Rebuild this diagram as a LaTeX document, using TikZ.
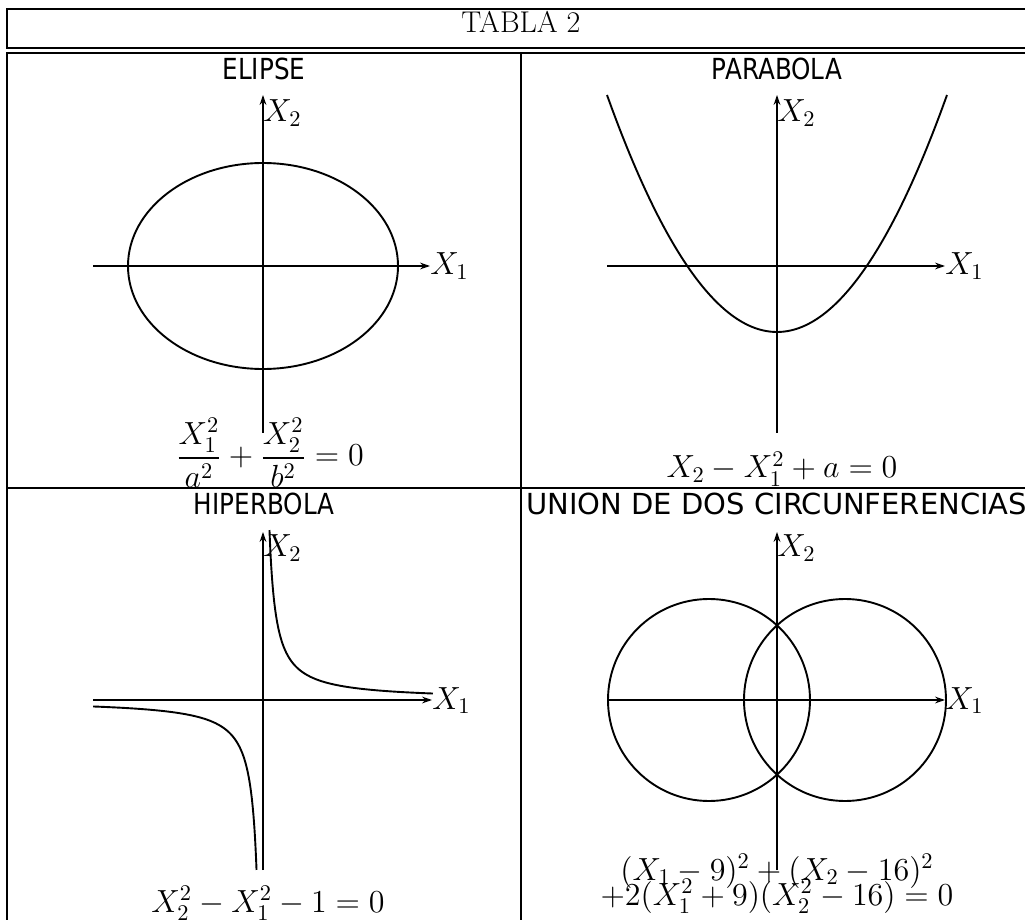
\RequirePackage{fix-cm}
\documentclass[tikz,border=0pt]{standalone}
\usepackage{amsmath}
\usepackage{fontspec}
\newfontfamily\headfont[FakeStretch=0.85]{DejaVu Sans}
\newfontfamily\wideheadfont{DejaVu Sans}
\usetikzlibrary{arrows.meta}

\tikzset{
  frame/.style={line width=1.1pt},
  axis/.style={line width=0.8pt, -{Stealth[length=5pt,width=3.4pt]}},
  curve/.style={line width=0.95pt},
  head/.style={font=\headfont\fontsize{14.5}{17}\selectfont, anchor=base, inner sep=0pt},
  widehead/.style={font=\wideheadfont\fontsize{14.5}{17}\selectfont, anchor=base west, inner sep=0pt},
  eqn/.style={font=\fontsize{16}{19}\selectfont, anchor=base, inner sep=0pt},
  lbl/.style={font=\fontsize{16}{19}\selectfont, anchor=base west, inner sep=0pt}
}

\begin{document}
\begin{tikzpicture}[x=0.5pt, y=-0.5pt]
\useasboundingbox (0,0) rectangle (1025,920);
\clip (0,0) rectangle (1025,920);

% title and table frame
\draw[frame] (7,9) rectangle (1045,48);
\node[font=\fontsize{15}{18}\selectfont, anchor=base, inner sep=0pt] (title) at (521,33) {TABLA 2};
\draw[frame] (7,945) -- (7,53) -- (1045,53);
\draw[frame] (521,53) -- (521,945);
\draw[frame] (7,488) -- (1045,488);

% ellipse
\begin{scope}[shift={(263,266)}]
\node[head] (h1) at (1,-186) {ELIPSE};
\draw[axis] (-170,0) -- (167,0);
\draw[axis] (0,167) -- (0,-171);
\node[lbl] (x1a) at (167,9) {$X_1$};
\node[lbl] (x2a) at (0,-144) {$X_2$};
\draw[curve] (0,0) ellipse [x radius=135, y radius=103];
\node[eqn] (eq1) at (7,200) {$\displaystyle\frac{X_1^2}{a^2}+\frac{X_2^2}{b^2}=0$};
\end{scope}

% parabola
\begin{scope}[shift={(777,266)}]
\node[head] (h2) at (0,-186) {PARABOLA};
\draw[axis] (-170,0) -- (168,0);
\draw[axis] (0,167) -- (0,-171);
\node[lbl] (x1b) at (168,9) {$X_1$};
\node[lbl] (x2b) at (0,-144) {$X_2$};
\draw[curve] plot[domain=-17:17, samples=61, smooth] ({10*\x}, {66-0.82*(\x)^2});
\node[eqn] (eq2) at (5,212) {$X_2-X_1^2+a=0$};
\end{scope}

% hyperbola
\begin{scope}[shift={(263,700)}]
\node[head] (h3) at (1,-185) {HIPERBOLA};
\draw[axis] (-170,0) -- (169,0);
\draw[axis] (0,170) -- (0,-168);
\node[lbl] (x1c) at (169,9) {$X_1$};
\node[lbl] (x2c) at (0,-143) {$X_2$};
\draw[curve] plot[domain=-1.634:1.634, samples=60, smooth] ({33.17*exp(\x)}, {-33.17*exp(-\x)});
\draw[curve] plot[domain=-1.634:1.634, samples=60, smooth] ({-33.17*exp(\x)}, {33.17*exp(-\x)});
\node[eqn] (eq3) at (5,212) {$X_2^2-X_1^2-1=0$};
\end{scope}

% two circles
\begin{scope}[shift={(777,700)}]
\node[widehead] (h4) at (-251,-185) {UNION DE DOS CIRCUNFERENCIAS};
\draw[axis] (-170,0) -- (168,0);
\draw[axis] (0,170) -- (0,-168);
\node[lbl] (x1d) at (168,9) {$X_1$};
\node[lbl] (x2d) at (0,-143) {$X_2$};
\draw[curve] (-68,0) circle [radius=101];
\draw[curve] (68,0) circle [radius=101];
\node[eqn] (eq4a) at (0,180) {$(X_1-9)^2+(X_2-16)^2$};
\node[eqn] (eq4b) at (0,205) {$+2(X_1^2+9)(X_2^2-16)=0$};
\end{scope}

\end{tikzpicture}
\end{document}
